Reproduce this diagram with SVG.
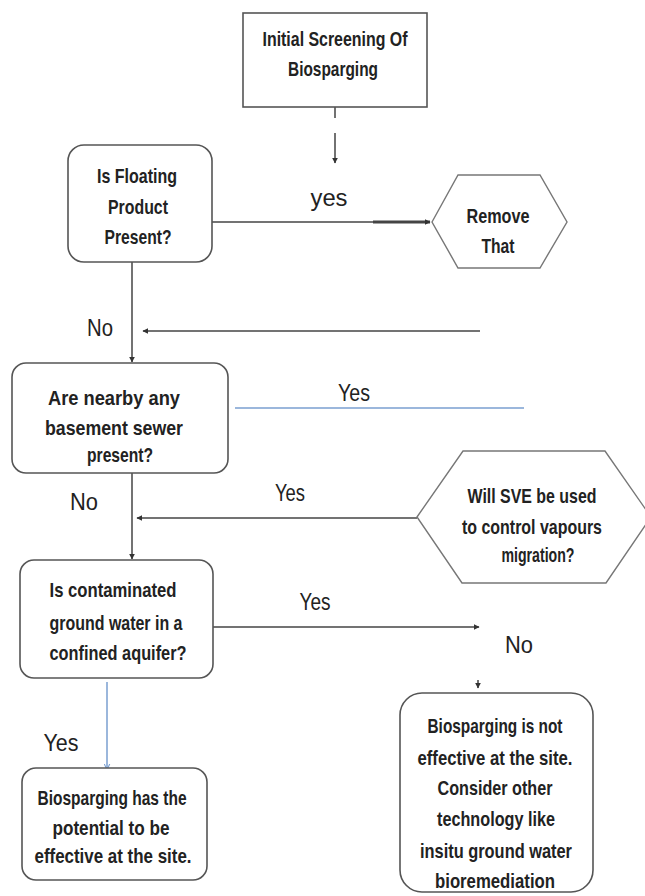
<svg xmlns="http://www.w3.org/2000/svg" width="645" height="896" viewBox="0 0 645 896">
<defs>
<marker id="ah" viewBox="0 0 10 10" refX="9" refY="5" markerWidth="6" markerHeight="6" orient="auto" markerUnits="userSpaceOnUse">
<path d="M0,0 L10,5 L0,10 z" fill="#333"/>
</marker>
<marker id="ahb" viewBox="0 0 10 10" refX="9" refY="5" markerWidth="7" markerHeight="7" orient="auto" markerUnits="userSpaceOnUse">
<path d="M0,1 L9,5 L0,9" fill="none" stroke="#7a9fd1" stroke-width="1.5"/>
</marker>
</defs>
<style>
.box{fill:#fff;stroke:#555;stroke-width:1.6}
.hex{fill:#fff;stroke:#777;stroke-width:1.4}
.t{font-family:"Liberation Sans",Arial,sans-serif;font-weight:bold;font-size:21px;fill:#222;text-anchor:middle;dominant-baseline:central}
.l{font-family:"Liberation Sans",Arial,sans-serif;font-size:23px;fill:#222;text-anchor:middle;dominant-baseline:central}
.c{fill:none;stroke:#444;stroke-width:1.5}
.cb{fill:none;stroke:#7a9fd1;stroke-width:1.5}
</style>
<rect width="645" height="896" fill="#fff"/>

<g id="connectors">
<path class="c" d="M335,107 V118 M335,133 V148"/>
<path class="c" d="M335,148 V163" marker-end="url(#ah)"/>
<path class="c" d="M212,222 H373"/>
<path d="M373,222 H430" fill="none" stroke="#444" stroke-width="3" marker-end="url(#ah)"/>
<path class="c" d="M480,331 H143" marker-end="url(#ah)"/>
<path class="c" d="M132,262 V362" marker-end="url(#ah)"/>
<path class="cb" d="M235,408 H524"/>
<path class="c" d="M417,518 H137" marker-end="url(#ah)"/>
<path class="c" d="M132,473 V559" marker-end="url(#ah)"/>
<path class="c" d="M213,627 H479" marker-end="url(#ah)"/>
<path class="c" d="M478,680 V688" marker-end="url(#ah)"/>
<path class="cb" d="M107,682 V770" marker-end="url(#ahb)"/>
</g>

<g id="labels">
<text class="l" x="329" y="198" textLength="37" lengthAdjust="spacingAndGlyphs">yes</text>
<text class="l" x="100" y="328" textLength="26" lengthAdjust="spacingAndGlyphs">No</text>
<text class="l" x="354" y="393" textLength="32" lengthAdjust="spacingAndGlyphs">Yes</text>
<text class="l" x="290" y="493" textLength="30" lengthAdjust="spacingAndGlyphs">Yes</text>
<text class="l" x="84" y="502" textLength="28" lengthAdjust="spacingAndGlyphs">No</text>
<text class="l" x="315" y="602" textLength="31" lengthAdjust="spacingAndGlyphs">Yes</text>
<text class="l" x="519" y="645" textLength="28" lengthAdjust="spacingAndGlyphs">No</text>
<text class="l" x="61" y="743" textLength="35" lengthAdjust="spacingAndGlyphs">Yes</text>
</g>

<g id="n-initial">
<rect class="box" x="243" y="13" width="184" height="94" rx="0"/>
<text class="t" x="335" y="38" textLength="145" lengthAdjust="spacingAndGlyphs">Initial Screening Of</text>
<text class="t" x="333" y="68" textLength="90" lengthAdjust="spacingAndGlyphs">Biosparging</text>
</g>

<g id="n-floating">
<rect class="box" x="68" y="145" width="144" height="117" rx="16"/>
<text class="t" x="137" y="175" textLength="80" lengthAdjust="spacingAndGlyphs">Is Floating</text>
<text class="t" x="138" y="206" textLength="60" lengthAdjust="spacingAndGlyphs">Product</text>
<text class="t" x="138" y="236" textLength="67" lengthAdjust="spacingAndGlyphs">Present?</text>
</g>

<g id="n-remove">
<polygon class="hex" points="432,222 458,175 540,175 567,222 540,268 458,268"/>
<text class="t" x="498" y="215" textLength="63" lengthAdjust="spacingAndGlyphs">Remove</text>
<text class="t" x="498" y="245" textLength="33" lengthAdjust="spacingAndGlyphs">That</text>
</g>

<g id="n-basement">
<rect class="box" x="12" y="363" width="216" height="110" rx="14"/>
<text class="t" x="114" y="397" textLength="132" lengthAdjust="spacingAndGlyphs">Are nearby any</text>
<text class="t" x="114" y="427" textLength="138" lengthAdjust="spacingAndGlyphs">basement sewer</text>
<text class="t" x="120" y="454" textLength="66" lengthAdjust="spacingAndGlyphs">present?</text>
</g>

<g id="n-sve">
<polygon class="hex" points="417,517 463,451 605,451 651,517 606,583 462,583"/>
<text class="t" x="532" y="495" textLength="129" lengthAdjust="spacingAndGlyphs">Will SVE be used</text>
<text class="t" x="532" y="526" textLength="140" lengthAdjust="spacingAndGlyphs">to control vapours</text>
<text class="t" x="538" y="554" textLength="73" lengthAdjust="spacingAndGlyphs">migration?</text>
</g>

<g id="n-aquifer">
<rect class="box" x="20" y="560" width="193" height="118" rx="14"/>
<text class="t" x="113" y="589" textLength="127" lengthAdjust="spacingAndGlyphs">Is contaminated</text>
<text class="t" x="116" y="622" textLength="133" lengthAdjust="spacingAndGlyphs">ground water in a</text>
<text class="t" x="118" y="652" textLength="137" lengthAdjust="spacingAndGlyphs">confined aquifer?</text>
</g>

<g id="n-effective">
<rect class="box" x="22" y="768" width="185" height="112" rx="14"/>
<text class="t" x="112" y="797" textLength="149" lengthAdjust="spacingAndGlyphs">Biosparging has the</text>
<text class="t" x="111" y="827" textLength="117" lengthAdjust="spacingAndGlyphs">potential to be</text>
<text class="t" x="113" y="855" textLength="157" lengthAdjust="spacingAndGlyphs">effective at the site.</text>
</g>

<g id="n-noteffective">
<rect class="box" x="400" y="693" width="193" height="199" rx="22"/>
<text class="t" x="495" y="725" textLength="135" lengthAdjust="spacingAndGlyphs">Biosparging is not</text>
<text class="t" x="495" y="757" textLength="155" lengthAdjust="spacingAndGlyphs">effective at the site.</text>
<text class="t" x="495" y="787" textLength="115" lengthAdjust="spacingAndGlyphs">Consider other</text>
<text class="t" x="496" y="818" textLength="118" lengthAdjust="spacingAndGlyphs">technology like</text>
<text class="t" x="496" y="850" textLength="152" lengthAdjust="spacingAndGlyphs">insitu ground water</text>
<text class="t" x="495" y="880" textLength="120" lengthAdjust="spacingAndGlyphs">bioremediation</text>
</g>
</svg>
